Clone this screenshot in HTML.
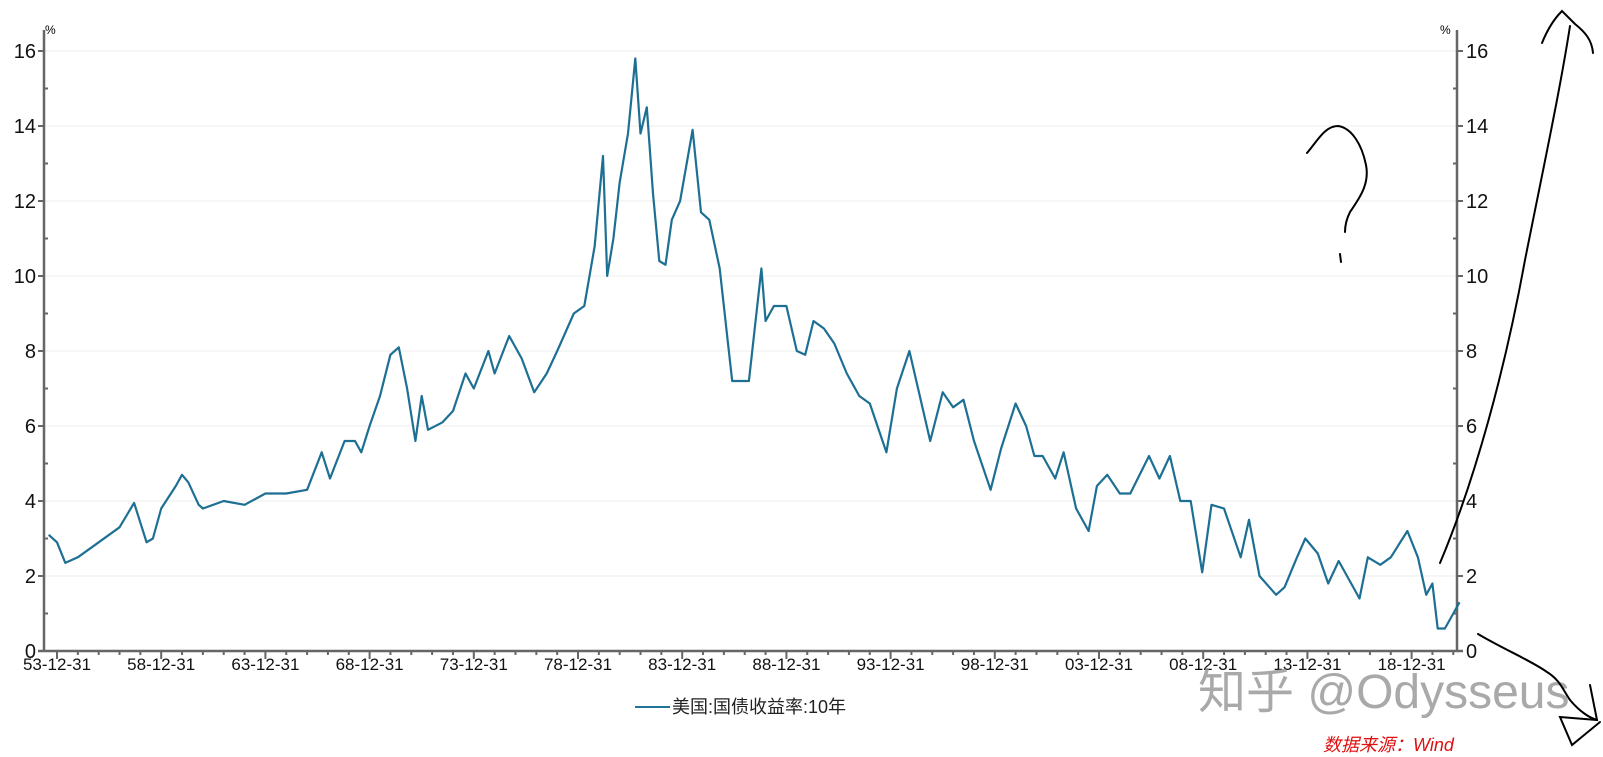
<!DOCTYPE html>
<html><head><meta charset="utf-8"><style>
html,body{margin:0;padding:0;background:#fff;}
svg{display:block;font-family:"Liberation Sans","Noto Sans CJK SC",sans-serif;}
</style></head><body>
<svg id="chart" width="1603" height="757" viewBox="0 0 1603 757" xmlns="http://www.w3.org/2000/svg">
<g id="grid"></g>
<g id="axes"></g>
<path id="series" fill="none" stroke="#1f7497" stroke-width="2.2" stroke-linejoin="round"/>
<text x="45" y="34" font-size="12">%</text>
<text x="1440" y="34" font-size="12">%</text>
<g>
<line x1="635" y1="707" x2="670" y2="707" stroke="#1f7497" stroke-width="2"/>
<text x="672" y="713" font-size="18" fill="#222">美国:国债收益率:10年</text>
</g>
<text x="1198" y="708" font-size="48" fill="#9a9a9a" fill-opacity="0.85">知乎 @Odysseus</text>
<text x="1323" y="751" font-size="18" font-style="italic" fill="#e01010">数据来源：Wind</text>
<g fill="none" stroke="#000" stroke-width="2" stroke-linecap="round">
<path d="M1307,153 C1318,140 1325,126 1338,126 C1352,128 1362,145 1366,165 C1370,185 1358,200 1350,212 C1346,220 1345,228 1345,232"/>
<path d="M1340,254 L1341,262"/>
<path d="M1440,563 C1475,480 1505,370 1525,260 C1545,160 1560,90 1570,26"/>
<path d="M1542,43 C1548,28 1555,18 1562,11 L1575,24 C1585,32 1592,40 1593,53"/>
<path d="M1478,634 C1505,650 1530,660 1547,672 C1560,680 1563,690 1570,700 C1580,712 1590,718 1597,720"/>
<path d="M1590,685 L1597,720 L1560,717 L1572,745 L1600,722"/>
</g>
</svg>
<script>
const years=[1953.6,1954.0,1954.4,1955,1956,1957,1957.7,1958.3,1958.6,1959,1959.7,1960.0,1960.3,1960.8,1961,1962,1963,1964,1965,1966,1966.7,1967.1,1967.8,1968.3,1968.6,1969,1969.5,1970.0,1970.4,1970.8,1971.2,1971.5,1971.8,1972.5,1973,1973.6,1974,1974.7,1975,1975.7,1976.3,1976.9,1977.5,1978,1978.8,1979.3,1979.8,1980.2,1980.4,1980.7,1981.0,1981.4,1981.75,1982,1982.3,1982.6,1982.9,1983.2,1983.5,1983.9,1984.5,1984.9,1985.3,1985.8,1986.2,1986.4,1986.8,1987.2,1987.8,1988.0,1988.4,1989.0,1989.5,1989.9,1990.3,1990.8,1991.3,1991.9,1992.5,1993.0,1993.8,1994.3,1994.9,1995.4,1995.9,1996.5,1997,1997.5,1998,1998.8,1999.3,2000.0,2000.5,2000.9,2001.3,2001.9,2002.3,2002.9,2003.5,2003.9,2004.4,2005,2005.5,2006.4,2006.9,2007.4,2007.9,2008.4,2008.95,2009.4,2010,2010.8,2011.2,2011.7,2012.5,2012.9,2013.5,2013.9,2014.5,2015.0,2015.5,2016.5,2016.9,2017.5,2018.0,2018.8,2019.3,2019.7,2020.0,2020.25,2020.6,2021.0,2021.3];
const yields=[3.1,2.9,2.35,2.5,2.9,3.3,3.95,2.9,3.0,3.8,4.4,4.7,4.5,3.9,3.8,4.0,3.9,4.2,4.2,4.3,5.3,4.6,5.6,5.6,5.3,6.0,6.8,7.9,8.1,7.0,5.6,6.8,5.9,6.1,6.4,7.4,7.0,8.0,7.4,8.4,7.8,6.9,7.4,8.0,9.0,9.2,10.8,13.2,10.0,11.0,12.5,13.8,15.8,13.8,14.5,12.2,10.4,10.3,11.5,12.0,13.9,11.7,11.5,10.2,8.2,7.2,7.2,7.2,10.2,8.8,9.2,9.2,8.0,7.9,8.8,8.6,8.2,7.4,6.8,6.6,5.3,7.0,8.0,6.8,5.6,6.9,6.5,6.7,5.6,4.3,5.4,6.6,6.0,5.2,5.2,4.6,5.3,3.8,3.2,4.4,4.7,4.2,4.2,5.2,4.6,5.2,4.0,4.0,2.1,3.9,3.8,2.5,3.5,2.0,1.5,1.7,2.5,3.0,2.6,1.8,2.4,1.4,2.5,2.3,2.5,3.2,2.5,1.5,1.8,0.6,0.6,1.0,1.3];
const yTicks=[0,2,4,6,8,10,12,14,16];
const xTickYears=[1954,1959,1964,1969,1974,1979,1984,1989,1994,1999,2004,2009,2014,2019];
const xTickLabels=["53-12-31","58-12-31","63-12-31","68-12-31","73-12-31","78-12-31","83-12-31","88-12-31","93-12-31","98-12-31","03-12-31","08-12-31","13-12-31","18-12-31"];
const L=44,R=1457,T=30,B=651;
function xs(y){return 57+(y-1954)*20.84;}
function ys(v){return B-v*37.5;}
const NS="http://www.w3.org/2000/svg";
function mk(tag,attrs,parent){const e=document.createElementNS(NS,tag);for(const k in attrs)e.setAttribute(k,attrs[k]);parent.appendChild(e);return e;}
const grid=document.getElementById('grid'),axes=document.getElementById('axes');
yTicks.forEach(v=>{
  if(v>0){const g=mk('line',{x1:L,x2:R,y1:ys(v),y2:ys(v),stroke:'#ececec','stroke-width':1},grid);
  
  }
  const t1=mk('text',{x:L-8,y:ys(v)+7,'font-size':20,'text-anchor':'end',fill:'#111'},axes);t1.textContent=v;
  
  
  const t2=mk('text',{x:R+9,y:ys(v)+7,'font-size':20,fill:'#111'},axes);t2.textContent=v;
  
  
  mk('line',{x1:L-6,x2:L,y1:ys(v),y2:ys(v),stroke:'#666','stroke-width':2},axes);
  mk('line',{x1:R,x2:R+6,y1:ys(v),y2:ys(v),stroke:'#666','stroke-width':2},axes);
});
for(let v=1;v<16;v+=2){
  mk('line',{x1:L,x2:L+4,y1:ys(v),y2:ys(v),stroke:'#666','stroke-width':2},axes);
  mk('line',{x1:R-4,x2:R,y1:ys(v),y2:ys(v),stroke:'#666','stroke-width':2},axes);
}
for(let yr=1954;yr<=2021;yr++){
  const major=(yr-1954)%5===0;
  mk('line',{x1:xs(yr),x2:xs(yr),y1:B,y2:B+(major?8:4),stroke:'#666','stroke-width':2},axes);
}
xTickYears.forEach((yr,i)=>{
  const t=mk('text',{x:xs(yr),y:B+19,'font-size':17,'text-anchor':'middle',fill:'#111'},axes);t.textContent=xTickLabels[i];
  
  
});
const la=mk('line',{x1:L,x2:L,y1:T,y2:B,stroke:'#666','stroke-width':2.5},axes);


const ra=mk('line',{x1:R,x2:R,y1:T,y2:B,stroke:'#666','stroke-width':2.5},axes);


const xa=mk('line',{x1:L-6,x2:R+6,y1:B,y2:B,stroke:'#666','stroke-width':2.5},axes);


document.getElementById('series').setAttribute('d',years.map((yr,i)=>(i?'L':'M')+xs(yr).toFixed(1)+','+ys(yields[i]).toFixed(1)).join(' '));
document.getElementById('series').setAttribute('stroke','#1d6f93');
</script>
</body></html>
